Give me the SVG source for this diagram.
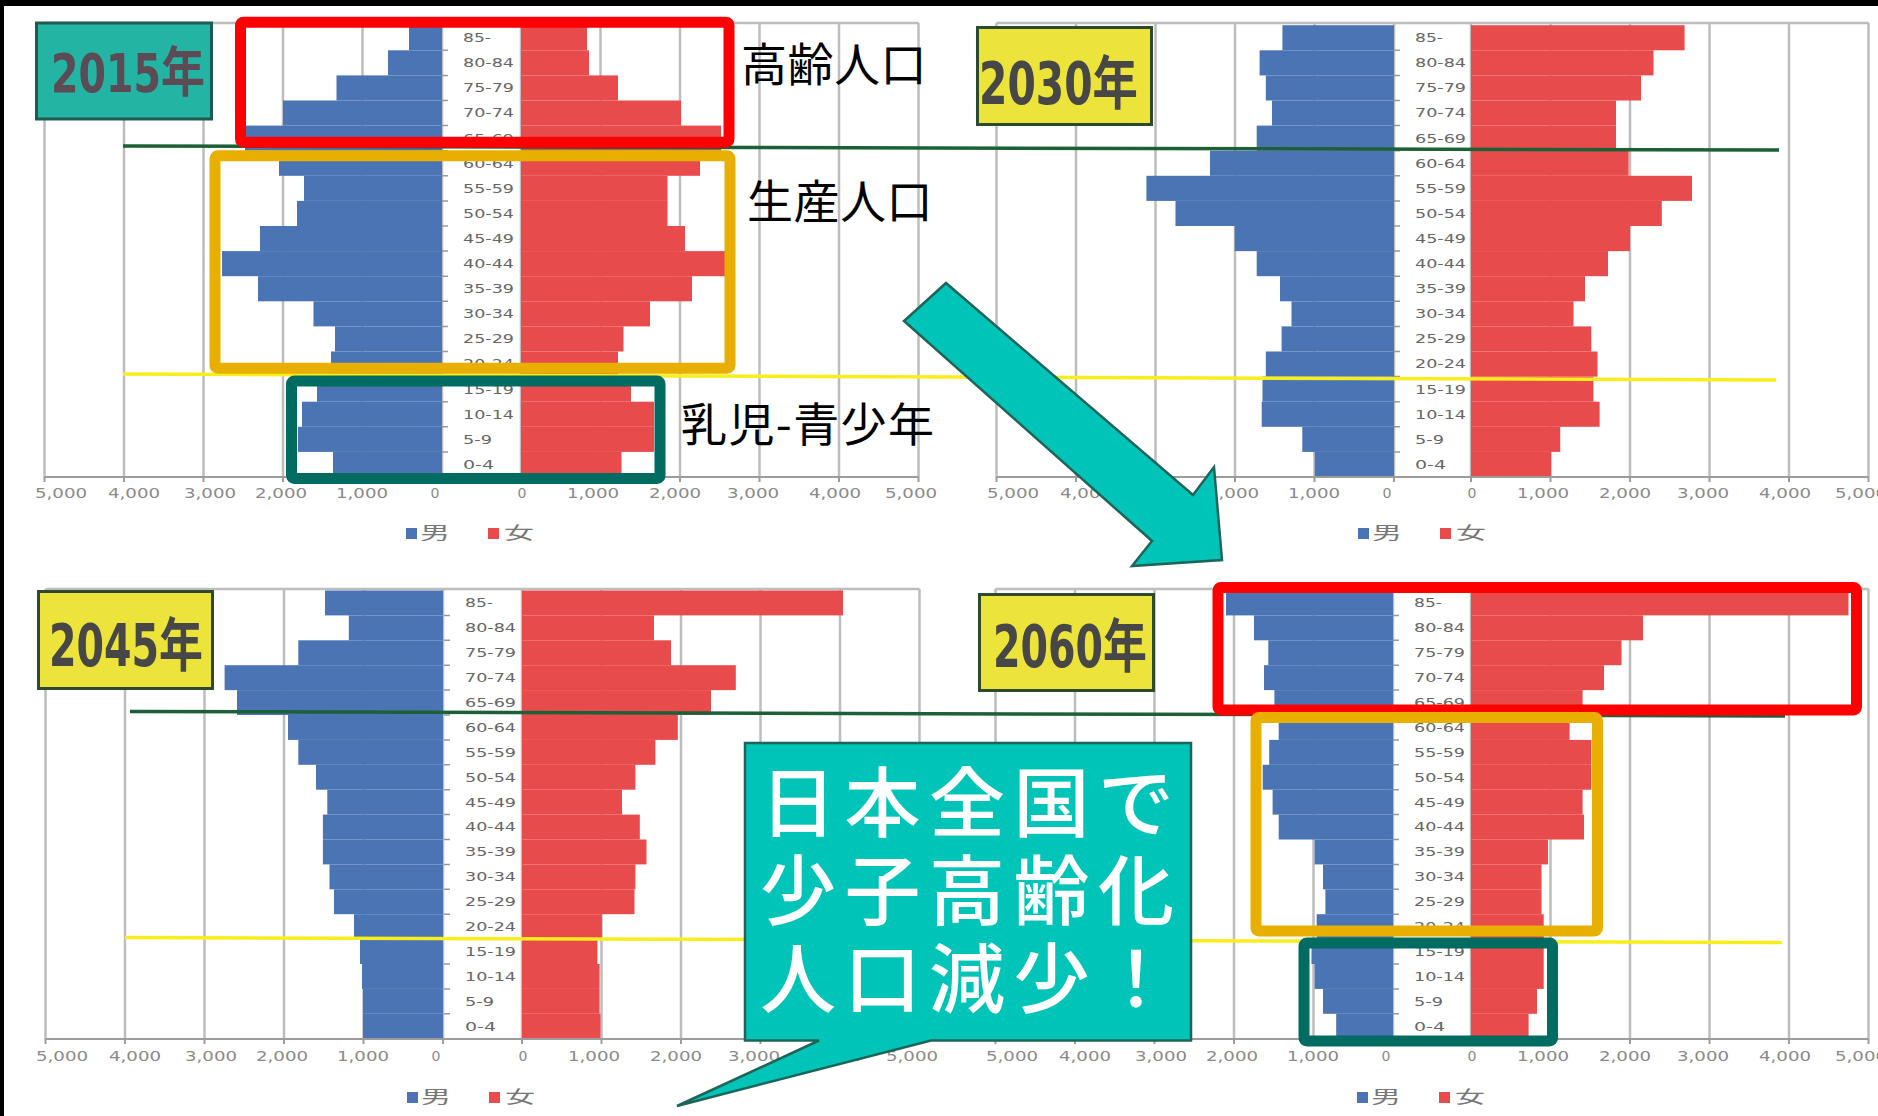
<svg xmlns="http://www.w3.org/2000/svg" xmlns:xlink="http://www.w3.org/1999/xlink" width="1878" height="1116" viewBox="0 0 1878 1116">
<style>
.grid{stroke:#bdbdbd;stroke-width:2.5;fill:none}
.axis{stroke:#9c9c9c;stroke-width:2;fill:none}
.m{fill:#4a74b4}
.f{fill:#e84b4c}
.age{font-family:"DejaVu Sans","Liberation Sans",sans-serif;font-size:12.5px;fill:#666}
.tick{font-family:"DejaVu Sans","Liberation Sans",sans-serif;font-size:14px;fill:#8a8a8a;text-anchor:middle}
.leg{font-family:"Noto Sans CJK JP",sans-serif;font-size:17px;fill:#777}
.gl{stroke:#1d5f36;stroke-width:3.5;fill:none}
.yl{stroke:#f7ee1c;stroke-width:3.5;fill:none}
.yr{stroke-width:3}
.yrt{font-family:"DejaVu Sans Condensed","DejaVu Sans","Noto Sans CJK JP",sans-serif;font-weight:bold}
.red{fill:none;stroke:#ff0000;stroke-width:11}
.gold{fill:none;stroke:#e8ae00;stroke-width:11}
.teal{fill:none;stroke:#006b60;stroke-width:11}
.side{font-family:"Noto Sans CJK JP",sans-serif;font-size:46px;fill:#000}
.cyan{fill:#00c4b8;stroke:#1e6458;stroke-width:2.5;stroke-linejoin:miter}
.call{font-family:"Liberation Sans","Noto Sans CJK JP",sans-serif;font-size:76px;font-weight:500;fill:#fff;letter-spacing:8.5px}
</style>
<defs>
<g id="ages" class="age">
<text y="17" textLength="28" lengthAdjust="spacingAndGlyphs">85-</text>
<text y="42.1" textLength="51" lengthAdjust="spacingAndGlyphs">80-84</text>
<text y="67.2" textLength="51" lengthAdjust="spacingAndGlyphs">75-79</text>
<text y="92.3" textLength="51" lengthAdjust="spacingAndGlyphs">70-74</text>
<text y="117.4" textLength="51" lengthAdjust="spacingAndGlyphs">65-69</text>
<text y="142.5" textLength="51" lengthAdjust="spacingAndGlyphs">60-64</text>
<text y="167.6" textLength="51" lengthAdjust="spacingAndGlyphs">55-59</text>
<text y="192.7" textLength="51" lengthAdjust="spacingAndGlyphs">50-54</text>
<text y="217.8" textLength="51" lengthAdjust="spacingAndGlyphs">45-49</text>
<text y="242.9" textLength="51" lengthAdjust="spacingAndGlyphs">40-44</text>
<text y="268" textLength="51" lengthAdjust="spacingAndGlyphs">35-39</text>
<text y="293.1" textLength="51" lengthAdjust="spacingAndGlyphs">30-34</text>
<text y="318.2" textLength="51" lengthAdjust="spacingAndGlyphs">25-29</text>
<text y="343.3" textLength="51" lengthAdjust="spacingAndGlyphs">20-24</text>
<text y="368.4" textLength="51" lengthAdjust="spacingAndGlyphs">15-19</text>
<text y="393.5" textLength="51" lengthAdjust="spacingAndGlyphs">10-14</text>
<text y="418.6" textLength="29" lengthAdjust="spacingAndGlyphs">5-9</text>
<text y="443.7" textLength="31" lengthAdjust="spacingAndGlyphs">0-4</text>
<path d="M-21 25.1h6M-21 50.2h6M-21 75.3h6M-21 100.4h6M-21 125.5h6M-21 150.6h6M-21 175.7h6M-21 200.8h6M-21 225.9h6M-21 251h6M-21 276.1h6M-21 301.2h6M-21 326.3h6M-21 351.4h6M-21 376.5h6M-21 401.6h6M-21 426.7h6" stroke="#999" stroke-width="1.5"/>
</g>
<g id="tl" class="tick">
<text x="-381" textLength="52" lengthAdjust="spacingAndGlyphs">5,000</text>
<text x="-308" textLength="52" lengthAdjust="spacingAndGlyphs">4,000</text>
<text x="-232" textLength="52" lengthAdjust="spacingAndGlyphs">3,000</text>
<text x="-161" textLength="52" lengthAdjust="spacingAndGlyphs">2,000</text>
<text x="-80" textLength="52" lengthAdjust="spacingAndGlyphs">1,000</text>
<text x="-7">0</text>
</g>
<g id="tr" class="tick">
<text x="1">0</text>
<text x="72" textLength="52" lengthAdjust="spacingAndGlyphs">1,000</text>
<text x="154" textLength="52" lengthAdjust="spacingAndGlyphs">2,000</text>
<text x="232" textLength="52" lengthAdjust="spacingAndGlyphs">3,000</text>
<text x="314" textLength="52" lengthAdjust="spacingAndGlyphs">4,000</text>
<text x="390" textLength="52" lengthAdjust="spacingAndGlyphs">5,000</text>
</g>
<g id="legend">
<rect x="-36" y="-5" width="11" height="11" class="m"/>
<text x="-22" y="6" class="leg" textLength="30" lengthAdjust="spacingAndGlyphs">男</text>
<rect x="46" y="-5" width="11" height="11" class="f"/>
<text x="62" y="6" class="leg" textLength="30" lengthAdjust="spacingAndGlyphs">女</text>
</g>
</defs>
<rect width="1878" height="1116" fill="#fff"/>

<g id="chart-2015">
<path class="grid" d="M44.5 23H918.5M44.5 23V477M124 23V477M203.5 23V477M283 23V477M362.5 23V477M442 23V477M521 23V477M600.5 23V477M680 23V477M759.5 23V477M839 23V477M918.5 23V477"/>
<g>
<rect class="m" x="409" y="25.2" width="33" height="25.1"/>
<rect class="m" x="388" y="50.3" width="54" height="25.1"/>
<rect class="m" x="336.5" y="75.4" width="105.5" height="25.1"/>
<rect class="m" x="283" y="100.5" width="159" height="25.1"/>
<rect class="m" x="245" y="125.6" width="197" height="25.1"/>
<rect class="m" x="279" y="150.7" width="163" height="25.1"/>
<rect class="m" x="304" y="175.8" width="138" height="25.1"/>
<rect class="m" x="297" y="200.9" width="145" height="25.1"/>
<rect class="m" x="260" y="226" width="182" height="25.1"/>
<rect class="m" x="222" y="251.1" width="220" height="25.1"/>
<rect class="m" x="258" y="276.2" width="184" height="25.1"/>
<rect class="m" x="313.5" y="301.3" width="128.5" height="25.1"/>
<rect class="m" x="335" y="326.4" width="107" height="25.1"/>
<rect class="m" x="331" y="351.5" width="111" height="25.1"/>
<rect class="m" x="317" y="376.6" width="125" height="25.1"/>
<rect class="m" x="302" y="401.7" width="140" height="25.1"/>
<rect class="m" x="298" y="426.8" width="144" height="25.1"/>
<rect class="m" x="333" y="451.9" width="109" height="25.1"/>
<rect class="f" x="521" y="25.2" width="66" height="25.1"/>
<rect class="f" x="521" y="50.3" width="68" height="25.1"/>
<rect class="f" x="521" y="75.4" width="97" height="25.1"/>
<rect class="f" x="521" y="100.5" width="160" height="25.1"/>
<rect class="f" x="521" y="125.6" width="200" height="25.1"/>
<rect class="f" x="521" y="150.7" width="179" height="25.1"/>
<rect class="f" x="521" y="175.8" width="146.5" height="25.1"/>
<rect class="f" x="521" y="200.9" width="146.5" height="25.1"/>
<rect class="f" x="521" y="226" width="164" height="25.1"/>
<rect class="f" x="521" y="251.1" width="204" height="25.1"/>
<rect class="f" x="521" y="276.2" width="171" height="25.1"/>
<rect class="f" x="521" y="301.3" width="129" height="25.1"/>
<rect class="f" x="521" y="326.4" width="102.5" height="25.1"/>
<rect class="f" x="521" y="351.5" width="97" height="25.1"/>
<rect class="f" x="521" y="376.6" width="110" height="25.1"/>
<rect class="f" x="521" y="401.7" width="133" height="25.1"/>
<rect class="f" x="521" y="426.8" width="133" height="25.1"/>
<rect class="f" x="521" y="451.9" width="100.5" height="25.1"/>
</g>
<path class="axis" d="M44.5 477H918.5M44.5 477v5M124 477v5M203.5 477v5M283 477v5M362.5 477v5M442 477v5M521 477v5M600.5 477v5M680 477v5M759.5 477v5M839 477v5M918.5 477v5"/>
<use href="#ages" transform="translate(463,25.2)"/>
<use href="#tl" transform="translate(442,498)"/>
<use href="#tr" transform="translate(521,498)"/>
<use href="#legend" transform="translate(442,533)"/>
</g>

<g id="chart-2030">
<path class="grid" d="M996.5 23H1868.5M996.5 23V477M1076 23V477M1155.5 23V477M1235 23V477M1314.5 23V477M1394 23V477M1471 23V477M1550.5 23V477M1630 23V477M1709.5 23V477M1789 23V477M1868.5 23V477"/>
<g>
<rect class="m" x="1282.4" y="25.2" width="111.6" height="25.1"/>
<rect class="m" x="1259.6" y="50.3" width="134.4" height="25.1"/>
<rect class="m" x="1265.8" y="75.4" width="128.2" height="25.1"/>
<rect class="m" x="1272" y="100.5" width="122" height="25.1"/>
<rect class="m" x="1256.7" y="125.6" width="137.3" height="25.1"/>
<rect class="m" x="1210" y="150.7" width="184" height="25.1"/>
<rect class="m" x="1146.4" y="175.8" width="247.6" height="25.1"/>
<rect class="m" x="1175.5" y="200.9" width="218.5" height="25.1"/>
<rect class="m" x="1234.7" y="226" width="159.3" height="25.1"/>
<rect class="m" x="1256.7" y="251.1" width="137.3" height="25.1"/>
<rect class="m" x="1280" y="276.2" width="114" height="25.1"/>
<rect class="m" x="1291.5" y="301.3" width="102.5" height="25.1"/>
<rect class="m" x="1281.6" y="326.4" width="112.4" height="25.1"/>
<rect class="m" x="1265.8" y="351.5" width="128.2" height="25.1"/>
<rect class="m" x="1262.5" y="376.6" width="131.5" height="25.1"/>
<rect class="m" x="1261.7" y="401.7" width="132.3" height="25.1"/>
<rect class="m" x="1302.3" y="426.8" width="91.7" height="25.1"/>
<rect class="m" x="1314.8" y="451.9" width="79.2" height="25.1"/>
<rect class="f" x="1471" y="25.2" width="213.6" height="25.1"/>
<rect class="f" x="1471" y="50.3" width="182.5" height="25.1"/>
<rect class="f" x="1471" y="75.4" width="170" height="25.1"/>
<rect class="f" x="1471" y="100.5" width="145" height="25.1"/>
<rect class="f" x="1471" y="125.6" width="145" height="25.1"/>
<rect class="f" x="1471" y="150.7" width="157.6" height="25.1"/>
<rect class="f" x="1471" y="175.8" width="221" height="25.1"/>
<rect class="f" x="1471" y="200.9" width="190.8" height="25.1"/>
<rect class="f" x="1471" y="226" width="159" height="25.1"/>
<rect class="f" x="1471" y="251.1" width="137" height="25.1"/>
<rect class="f" x="1471" y="276.2" width="114" height="25.1"/>
<rect class="f" x="1471" y="301.3" width="102.5" height="25.1"/>
<rect class="f" x="1471" y="326.4" width="120.3" height="25.1"/>
<rect class="f" x="1471" y="351.5" width="126.5" height="25.1"/>
<rect class="f" x="1471" y="376.6" width="122.4" height="25.1"/>
<rect class="f" x="1471" y="401.7" width="128.6" height="25.1"/>
<rect class="f" x="1471" y="426.8" width="89.2" height="25.1"/>
<rect class="f" x="1471" y="451.9" width="80" height="25.1"/>
</g>
<path class="axis" d="M996.5 477H1868.5M996.5 477v5M1076 477v5M1155.5 477v5M1235 477v5M1314.5 477v5M1394 477v5M1471 477v5M1550.5 477v5M1630 477v5M1709.5 477v5M1789 477v5M1868.5 477v5"/>
<use href="#ages" transform="translate(1415,25.2)"/>
<use href="#tl" transform="translate(1394,498)"/>
<use href="#tr" transform="translate(1471,498)"/>
<use href="#legend" transform="translate(1394,533)"/>
</g>

<g id="chart-2045">
<path class="grid" d="M45.5 589H919.5M45.5 589V1039M125 589V1039M204.5 589V1039M284 589V1039M363.5 589V1039M443 589V1039M522 589V1039M601.5 589V1039M681 589V1039M760.5 589V1039M840 589V1039M919.5 589V1039"/>
<g>
<rect class="m" x="325" y="590.5" width="118" height="24.9"/>
<rect class="m" x="348.8" y="615.4" width="94.2" height="24.9"/>
<rect class="m" x="298.3" y="640.3" width="144.7" height="24.9"/>
<rect class="m" x="224.6" y="665.2" width="218.4" height="24.9"/>
<rect class="m" x="237" y="690.1" width="206" height="24.9"/>
<rect class="m" x="288" y="715" width="155" height="24.9"/>
<rect class="m" x="298.3" y="739.9" width="144.7" height="24.9"/>
<rect class="m" x="316" y="764.8" width="127" height="24.9"/>
<rect class="m" x="327.3" y="789.7" width="115.7" height="24.9"/>
<rect class="m" x="322.9" y="814.6" width="120.1" height="24.9"/>
<rect class="m" x="322.9" y="839.5" width="120.1" height="24.9"/>
<rect class="m" x="329.5" y="864.4" width="113.5" height="24.9"/>
<rect class="m" x="334" y="889.3" width="109" height="24.9"/>
<rect class="m" x="354" y="914.2" width="89" height="24.9"/>
<rect class="m" x="360" y="939.1" width="83" height="24.9"/>
<rect class="m" x="362" y="964" width="81" height="24.9"/>
<rect class="m" x="363" y="988.9" width="80" height="24.9"/>
<rect class="m" x="363" y="1013.8" width="80" height="24.9"/>
<rect class="f" x="522" y="590.5" width="321" height="24.9"/>
<rect class="f" x="522" y="615.4" width="132" height="24.9"/>
<rect class="f" x="522" y="640.3" width="149" height="24.9"/>
<rect class="f" x="522" y="665.2" width="213.8" height="24.9"/>
<rect class="f" x="522" y="690.1" width="189" height="24.9"/>
<rect class="f" x="522" y="715" width="155.8" height="24.9"/>
<rect class="f" x="522" y="739.9" width="133.4" height="24.9"/>
<rect class="f" x="522" y="764.8" width="113.4" height="24.9"/>
<rect class="f" x="522" y="789.7" width="100" height="24.9"/>
<rect class="f" x="522" y="814.6" width="117.8" height="24.9"/>
<rect class="f" x="522" y="839.5" width="124.5" height="24.9"/>
<rect class="f" x="522" y="864.4" width="113.4" height="24.9"/>
<rect class="f" x="522" y="889.3" width="112.5" height="24.9"/>
<rect class="f" x="522" y="914.2" width="79.9" height="24.9"/>
<rect class="f" x="522" y="939.1" width="75.4" height="24.9"/>
<rect class="f" x="522" y="964" width="77.6" height="24.9"/>
<rect class="f" x="522" y="988.9" width="77.6" height="24.9"/>
<rect class="f" x="522" y="1013.8" width="78.5" height="24.9"/>
</g>
<path class="axis" d="M45.5 1039H919.5M45.5 1039v5M125 1039v5M204.5 1039v5M284 1039v5M363.5 1039v5M443 1039v5M522 1039v5M601.5 1039v5M681 1039v5M760.5 1039v5M840 1039v5M919.5 1039v5"/>
<use href="#ages" transform="translate(465,590.5) scale(1,0.992)"/>
<use href="#tl" transform="translate(443,1061)"/>
<use href="#tr" transform="translate(522,1061)"/>
<use href="#legend" transform="translate(443,1097)"/>
</g>

<g id="chart-2060">
<path class="grid" d="M995.5 589H1868.5M995.5 589V1039M1075 589V1039M1154.5 589V1039M1234 589V1039M1313.5 589V1039M1393 589V1039M1471 589V1039M1550.5 589V1039M1630 589V1039M1709.5 589V1039M1789 589V1039M1868.5 589V1039"/>
<g>
<rect class="m" x="1226" y="590.5" width="167" height="24.9"/>
<rect class="m" x="1254" y="615.4" width="139" height="24.9"/>
<rect class="m" x="1268.3" y="640.3" width="124.7" height="24.9"/>
<rect class="m" x="1264" y="665.2" width="129" height="24.9"/>
<rect class="m" x="1274.4" y="690.1" width="118.6" height="24.9"/>
<rect class="m" x="1278.7" y="715" width="114.3" height="24.9"/>
<rect class="m" x="1269.2" y="739.9" width="123.8" height="24.9"/>
<rect class="m" x="1262.7" y="764.8" width="130.3" height="24.9"/>
<rect class="m" x="1272.6" y="789.7" width="120.4" height="24.9"/>
<rect class="m" x="1278.7" y="814.6" width="114.3" height="24.9"/>
<rect class="m" x="1314.6" y="839.5" width="78.4" height="24.9"/>
<rect class="m" x="1323" y="864.4" width="70" height="24.9"/>
<rect class="m" x="1325.4" y="889.3" width="67.6" height="24.9"/>
<rect class="m" x="1316.7" y="914.2" width="76.3" height="24.9"/>
<rect class="m" x="1311.5" y="939.1" width="81.5" height="24.9"/>
<rect class="m" x="1314.6" y="964" width="78.4" height="24.9"/>
<rect class="m" x="1323" y="988.9" width="70" height="24.9"/>
<rect class="m" x="1336.2" y="1013.8" width="56.8" height="24.9"/>
<rect class="f" x="1471" y="590.5" width="377.5" height="24.9"/>
<rect class="f" x="1471" y="615.4" width="172" height="24.9"/>
<rect class="f" x="1471" y="640.3" width="150.5" height="24.9"/>
<rect class="f" x="1471" y="665.2" width="133" height="24.9"/>
<rect class="f" x="1471" y="690.1" width="111.6" height="24.9"/>
<rect class="f" x="1471" y="715" width="98.6" height="24.9"/>
<rect class="f" x="1471" y="739.9" width="120.3" height="24.9"/>
<rect class="f" x="1471" y="764.8" width="120.3" height="24.9"/>
<rect class="f" x="1471" y="789.7" width="111.6" height="24.9"/>
<rect class="f" x="1471" y="814.6" width="113" height="24.9"/>
<rect class="f" x="1471" y="839.5" width="77" height="24.9"/>
<rect class="f" x="1471" y="864.4" width="70.5" height="24.9"/>
<rect class="f" x="1471" y="889.3" width="70.5" height="24.9"/>
<rect class="f" x="1471" y="914.2" width="72.7" height="24.9"/>
<rect class="f" x="1471" y="939.1" width="72.7" height="24.9"/>
<rect class="f" x="1471" y="964" width="72.7" height="24.9"/>
<rect class="f" x="1471" y="988.9" width="66" height="24.9"/>
<rect class="f" x="1471" y="1013.8" width="57.6" height="24.9"/>
</g>
<path class="axis" d="M995.5 1039H1868.5M995.5 1039v5M1075 1039v5M1154.5 1039v5M1234 1039v5M1313.5 1039v5M1393 1039v5M1471 1039v5M1550.5 1039v5M1630 1039v5M1709.5 1039v5M1789 1039v5M1868.5 1039v5"/>
<use href="#ages" transform="translate(1414,590.5) scale(1,0.992)"/>
<use href="#tl" transform="translate(1393,1061)"/>
<use href="#tr" transform="translate(1471,1061)"/>
<use href="#legend" transform="translate(1393,1097)"/>
</g>

<g id="guide-lines">
<path class="gl" d="M123 146L1779 150"/>
<path class="yl" d="M123 374L1776 380"/>
<path class="gl" d="M130 711.5L1785 716"/>
<path class="yl" d="M125 937.5L1782 942.5"/>
</g>

<g id="year-2015">
<rect class="yr" x="36.5" y="23" width="175" height="96" fill="#23b4a4" stroke="#1e5c52"/>
<text class="yrt" x="51" y="92" font-size="54" fill="#5c4a55" textLength="154" lengthAdjust="spacingAndGlyphs">2015年</text>
</g>
<g id="year-2030">
<rect class="yr" x="977.5" y="27.5" width="174" height="97" fill="#ece43a" stroke="#2e4a2e"/>
<text class="yrt" x="979" y="103.5" font-size="58" fill="#474747" textLength="159" lengthAdjust="spacingAndGlyphs">2030年</text>
</g>
<g id="year-2045">
<rect class="yr" x="38.5" y="591.5" width="174" height="97" fill="#ece43a" stroke="#2e4a2e"/>
<text class="yrt" x="49" y="665.5" font-size="58" fill="#474747" textLength="154" lengthAdjust="spacingAndGlyphs">2045年</text>
</g>
<g id="year-2060">
<rect class="yr" x="979.5" y="594.5" width="174" height="96" fill="#ece43a" stroke="#2e4a2e"/>
<text class="yrt" x="993" y="666.5" font-size="58" fill="#474747" textLength="154" lengthAdjust="spacingAndGlyphs">2060年</text>
</g>

<g id="box-2015-elderly"><rect class="red" x="240.5" y="22.2" width="488.5" height="120" rx="3"/></g>
<g id="box-2015-working"><rect class="gold" x="215" y="155.7" width="515" height="212.6" rx="3"/></g>
<g id="box-2015-youth"><rect class="teal" x="291.5" y="381" width="368.5" height="97.5" rx="3"/></g>
<g id="box-2060-elderly"><rect class="red" x="1218" y="587.5" width="638.5" height="122.5" rx="3"/></g>
<g id="box-2060-working"><rect class="gold" x="1256" y="717.5" width="341.5" height="213.5" rx="3"/></g>
<g id="box-2060-youth"><rect class="teal" x="1304" y="943" width="248.5" height="98" rx="3"/></g>

<g id="label-elderly"><text class="side" x="741" y="81" letter-spacing="0.5">高齢人口</text></g>
<g id="label-working"><text class="side" x="747" y="218" letter-spacing="0.5">生産人口</text></g>
<g id="label-youth"><text class="side" x="681" y="441" textLength="253" lengthAdjust="spacing">乳児-青少年</text></g>

<g id="connectors">
<polygon class="cyan" points="946,283 1193,495 1214,467 1222,560 1132,566 1152,541 904,321"/>
</g>

<g id="callout">
<path class="cyan" d="M745 743H1191V1040.5H931L677 1106L819 1040.5H745Z"/>
<text class="call" x="760" y="831">日本全国で</text>
<text class="call" x="760" y="919">少子高齢化</text>
<text class="call" x="760" y="1007">人口減少！</text>
</g>

<g id="frame">
<rect x="0" y="0" width="1878" height="6" fill="#000"/>
<rect x="0" y="0" width="4" height="1116" fill="#000"/>
</g>
</svg>
